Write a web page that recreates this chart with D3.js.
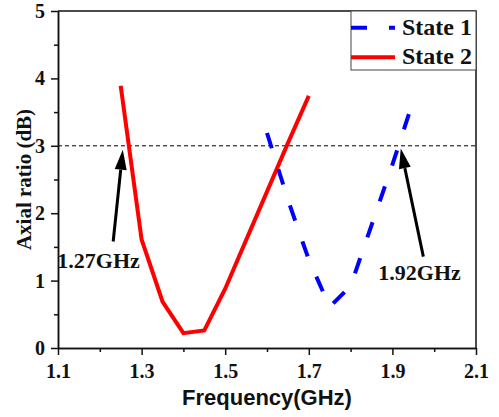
<!DOCTYPE html>
<html>
<head>
<meta charset="utf-8">
<script src="https://cdn.jsdelivr.net/npm/d3@7"></script>
<style>
  body { margin: 0; background: #fff; }
  svg { display: block; }
  .tick text { font-family: "Liberation Serif", "Times New Roman", serif; font-weight: bold; font-size: 20px; fill: #111; }
</style>
</head>
<body>
<svg id="chart" width="499" height="417"></svg>
<script>
// values
const state1Freq = [1.6, 1.65, 1.7, 1.75, 1.8, 1.85, 1.9, 1.94];
const state1AR   = [3.19, 2.2, 1.31, 0.61, 0.92, 1.82, 2.72, 3.48];
const state2Freq = [1.25, 1.3, 1.35, 1.4, 1.45, 1.5, 1.55, 1.6, 1.65, 1.7];
const state2AR   = [3.89, 1.61, 0.69, 0.22, 0.26, 0.88, 1.6, 2.32, 3.04, 3.74];
const xMajor = [1.1, 1.3, 1.5, 1.7, 1.9, 2.1];
const xMinor = [1.2, 1.4, 1.6, 1.8, 2.0];
const yMajor = [0, 1, 2, 3, 4, 5];
const yMinor = [0.5, 1.5, 2.5, 3.5, 4.5];
const threshold = 3;
const seriesNames = ['State 1', 'State 2'];
// arrows: tail -> tip in data units, label in data units
const arrowLabels = ['1.27GHz', '1.92GHz'];
const arrowTail = [[1.232, 1.58], [1.974, 1.355]];
const arrowTip  = [[1.255, 2.94], [1.92, 2.96]];
const labelPos  = [[1.197, 1.19], [1.965, 1.01]];

const svg = d3.select('#chart');
const margin = { top: 11, right: 23, bottom: 69, left: 58 };
const width = +svg.attr('width') - margin.left - margin.right;
const height = +svg.attr('height') - margin.top - margin.bottom;
const serif = '"Liberation Serif", "Times New Roman", serif';

const x = d3.scaleLinear().domain([1.1, 2.1]).range([0, width]);
const y = d3.scaleLinear().domain([0, 5]).range([height, 0]);

const g = svg.append('g').attr('transform', `translate(${margin.left},${margin.top})`);

// threshold line
g.append('line')
  .attr('x1', 0).attr('x2', width)
  .attr('y1', y(threshold)).attr('y2', y(threshold))
  .attr('stroke', '#000').attr('stroke-width', 1)
  .attr('stroke-dasharray', '4,3');

const line = d3.line().x(d => x(d[0])).y(d => y(d[1]));

g.append('path')
  .datum(d3.zip(state2Freq, state2AR))
  .attr('fill', 'none')
  .attr('stroke', '#ff0000')
  .attr('stroke-width', 4)
  .attr('d', line);

g.append('path')
  .datum(d3.zip(state1Freq, state1AR))
  .attr('fill', 'none')
  .attr('stroke', '#0000ff')
  .attr('stroke-width', 4)
  .attr('stroke-dasharray', '16,22')
  .attr('d', line);

// arrows
arrowLabels.forEach((lbl, i) => {
  const x1 = x(arrowTail[i][0]), y1 = y(arrowTail[i][1]);
  const x2 = x(arrowTip[i][0]), y2 = y(arrowTip[i][1]);
  const ang = Math.atan2(y2 - y1, x2 - x1);
  const len = 20, hw = 6;
  const bx = x2 - len * Math.cos(ang), by = y2 - len * Math.sin(ang);
  g.append('line')
    .attr('x1', x1).attr('y1', y1).attr('x2', bx).attr('y2', by)
    .attr('stroke', '#000').attr('stroke-width', 3);
  g.append('polygon')
    .attr('points', [
      [x2, y2],
      [bx + hw * Math.sin(ang), by - hw * Math.cos(ang)],
      [bx - hw * Math.sin(ang), by + hw * Math.cos(ang)]
    ].map(p => p.join(',')).join(' '))
    .attr('fill', '#000');
  g.append('text')
    .attr('x', x(labelPos[i][0])).attr('y', y(labelPos[i][1]))
    .attr('text-anchor', 'middle')
    .style('font-family', serif).style('font-weight', 'bold').style('font-size', '22px')
    .attr('fill', '#111')
    .text(lbl);
});

// axes
const xAxis = g.append('g').attr('transform', `translate(0,${height})`)
  .call(d3.axisBottom(x).tickValues(xMajor).tickFormat(d3.format('.1f')).tickSize(7).tickPadding(9).tickSizeOuter(0));
g.append('g').attr('transform', `translate(0,${height})`)
  .call(d3.axisBottom(x).tickValues(xMinor).tickFormat('').tickSize(4).tickSizeOuter(0));
const yAxis = g.append('g')
  .call(d3.axisLeft(y).tickValues(yMajor).tickFormat(d3.format('d')).tickSize(7).tickPadding(6).tickSizeOuter(0));
g.append('g')
  .call(d3.axisLeft(y).tickValues(yMinor).tickFormat('').tickSize(4).tickSizeOuter(0));
g.selectAll('.domain, .tick line').attr('stroke', '#111').attr('stroke-width', 1.5);

// top and right frame
g.append('path')
  .attr('d', `M0,0H${width}V${height}`)
  .attr('fill', 'none').attr('stroke', '#111').attr('stroke-width', 1.5);

// axis titles
svg.append('text')
  .attr('x', margin.left + width / 2).attr('y', 405)
  .attr('text-anchor', 'middle')
  .style('font-family', '"Liberation Sans", Arial, sans-serif').style('font-weight', 'bold').style('font-size', '22px')
  .attr('fill', '#111')
  .text('Frequency(GHz)');
svg.append('text')
  .attr('transform', `translate(31,${margin.top + height / 2}) rotate(-90)`)
  .attr('text-anchor', 'middle')
  .style('font-family', serif).style('font-weight', 'bold').style('font-size', '21px')
  .attr('fill', '#111')
  .text('Axial ratio (dB)');

// legend
const lg = g.append('g').attr('transform', `translate(${width - 125},0)`);
lg.append('rect').attr('width', 125).attr('height', 59)
  .attr('fill', '#fff').attr('stroke', '#444').attr('stroke-width', 1);
const styles = [
  { color: '#0000ff', dash: '16,22' },
  { color: '#ff0000', dash: null }
];
seriesNames.forEach((name, i) => {
  const ly = 16.7 + i * 29.6;
  lg.append('line')
    .attr('x1', 0).attr('x2', 44).attr('y1', ly).attr('y2', ly)
    .attr('stroke', styles[i].color).attr('stroke-width', 4)
    .attr('stroke-dasharray', styles[i].dash);
  lg.append('text')
    .attr('x', 51).attr('y', ly + 6.8)
    .style('font-family', serif).style('font-weight', 'bold').style('font-size', '24px')
    .attr('fill', '#111')
    .text(name);
});
</script>
</body>
</html>
